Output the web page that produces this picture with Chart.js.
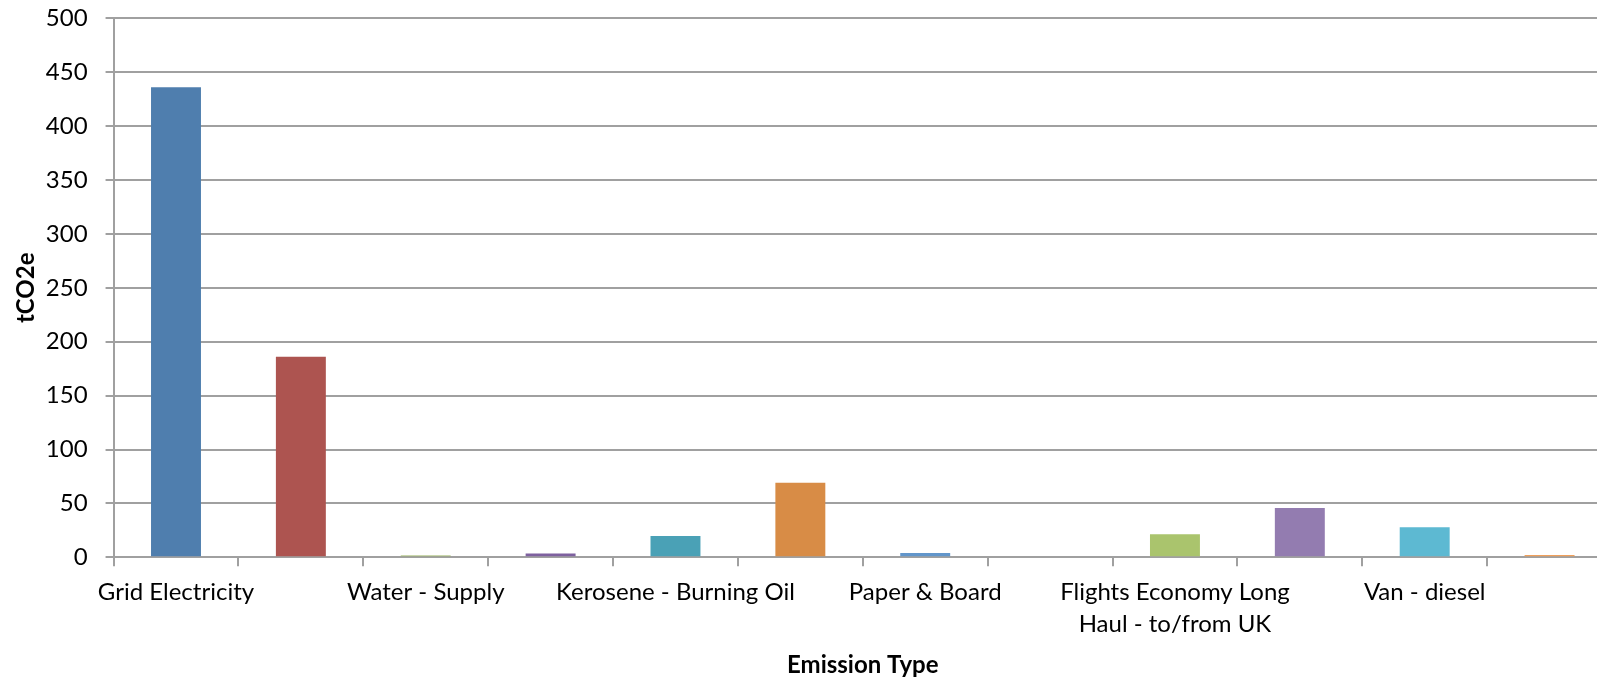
<!DOCTYPE html>
<html>
<head>
<meta charset="utf-8">
<script src="https://cdn.jsdelivr.net/npm/chart.js@4"></script>
<style>
  html, body { margin: 0; padding: 0; background: #ffffff; overflow: hidden; }
  #wrap { position: relative; width: 1612px; height: 682px; }
</style>
</head>
<body>
<div id="wrap"><canvas id="chart"></canvas></div>
<script>
// Emission categories (every second one carries a visible label)
const categories = [
  'Grid Electricity', '',
  'Water - Supply', '',
  'Kerosene - Burning Oil', '',
  'Paper & Board', '',
  ['Flights Economy Long', 'Haul - to/from UK'], '',
  'Van - diesel', ''
];

// tCO2e per emission type
const emissions = [436, 186, 1.7, 3.5, 19.8, 69.3, 4, 0, 21.5, 45.8, 28, 2.3];

// One colour per bar
const barColors = [
  '#4f7eae', '#ad5450', '#97b25d', '#7e619f', '#4aa1b6', '#d88c46',
  '#6296cb', '#c77b78', '#aac46d', '#937cb0', '#5db9d2', '#f0a05b'
];

const yTicks = { min: 0, max: 500, step: 50 };

const fontFamily = 'Lato, "Open Sans", sans-serif';
const gridColor = '#a0a0a0';

new Chart(document.getElementById('chart'), {
  type: 'bar',
  data: {
    labels: categories,
    datasets: [{
      label: 'tCO2e',
      data: emissions,
      backgroundColor: barColors,
      borderWidth: 0,
      categoryPercentage: 1.0,
      barPercentage: 0.4
    }]
  },
  options: {
    responsive: true,
    maintainAspectRatio: false,
    animation: false,
    layout: { padding: { left: 12, right: 0, top: 0, bottom: 2 } },
    plugins: {
      legend: { display: false },
      tooltip: { enabled: false }
    },
    scales: {
      x: {
        offset: true,
        grid: {
          offset: true,
          drawOnChartArea: false,
          drawTicks: true,
          tickLength: 9,
          color: gridColor,
          lineWidth: 2
        },
        border: { color: gridColor, width: 2 },
        ticks: {
          autoSkip: false,
          maxRotation: 0,
          minRotation: 0,
          padding: 10,
          color: '#000000',
          font: { family: fontFamily, size: 24, lineHeight: 1.33 }
        },
        title: {
          display: true,
          text: 'Emission Type',
          color: '#000000',
          font: { family: fontFamily, size: 24, weight: 'bold' },
          padding: { top: 1, bottom: 0 }
        }
      },
      y: {
        min: yTicks.min,
        max: yTicks.max,
        ticks: {
          stepSize: yTicks.step,
          padding: 18,
          color: '#000000',
          // single-line labels: a tight line height keeps the top overhang small
          font: { family: fontFamily, size: 24, lineHeight: 0.02 }
        },
        grid: {
          color: gridColor,
          lineWidth: 2,
          drawTicks: true,
          tickLength: 8
        },
        border: { color: gridColor, width: 2 },
        title: {
          display: true,
          text: 'tCO2e',
          color: '#000000',
          font: { family: fontFamily, size: 24, weight: 'bold' },
          padding: { top: 0, bottom: -13 }
        }
      }
    }
  }
});
</script>
</body>
</html>
